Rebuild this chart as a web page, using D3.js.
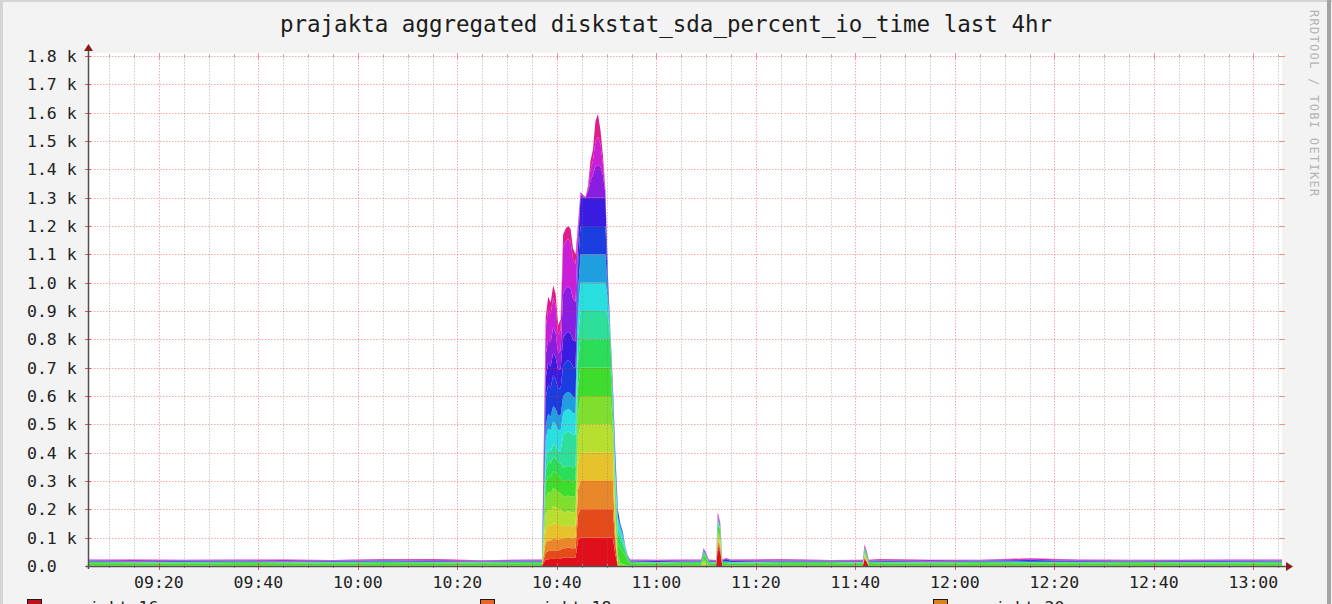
<!DOCTYPE html>
<html>
<head>
<meta charset="utf-8">
<script src="https://cdn.jsdelivr.net/npm/d3@7"></script>
<style>
  html, body { margin: 0; padding: 0; background: #f3f3f3; }
  svg { display: block; }
  text { font-family: "DejaVu Sans Mono", "Liberation Mono", monospace; }
</style>
</head>
<body>
<svg id="chart" width="1332" height="604"></svg>
<script>
// ---------------- data ----------------
const chartTitle = "prajakta aggregated diskstat_sda_percent_io_time last 4hr";
const watermark = "RRDTOOL / TOBI OETIKER";
const timeStart = "09:05:45";
const timeEnd = "13:05:45";

const yTickValues = [0, 100, 200, 300, 400, 500, 600, 700, 800, 900, 1000, 1100, 1200, 1300, 1400, 1500, 1600, 1700, 1800];
const yTickLabels = ["0.0", "0.1 k", "0.2 k", "0.3 k", "0.4 k", "0.5 k", "0.6 k", "0.7 k", "0.8 k", "0.9 k", "1.0 k", "1.1 k", "1.2 k", "1.3 k", "1.4 k", "1.5 k", "1.6 k", "1.7 k", "1.8 k"];
const xTickLabels = ["09:20", "09:40", "10:00", "10:20", "10:40", "11:00", "11:20", "11:40", "12:00", "12:20", "12:40", "13:00"];

const timeStamps = [
  // before the burst
  "09:05:45", "09:15:00", "09:25:00", "09:35:00", "09:45:00", "09:55:00", "10:05:00", "10:15:00", "10:25:00", "10:35:00", "10:37:00",
  // burst
  "10:37:15", "10:37:45", "10:38:15", "10:38:45", "10:39:15", "10:39:45", "10:40:15", "10:40:45", "10:41:15", "10:41:45",
  "10:42:15", "10:42:45", "10:43:15", "10:43:45", "10:44:15", "10:44:45", "10:45:15", "10:45:45", "10:46:15", "10:46:45",
  "10:47:15", "10:47:45", "10:48:15", "10:48:45", "10:49:15", "10:49:45", "10:50:15", "10:50:45", "10:51:15", "10:51:45",
  "10:52:15", "10:52:45", "10:53:15", "10:53:45", "10:54:15", "10:54:45",
  // after the burst
  "10:55:15", "11:00:00", "11:05:00", "11:09:00", "11:09:30", "11:10:00", "11:10:30", "11:12:00", "11:12:20", "11:12:50",
  "11:13:15", "11:14:00", "11:15:00", "11:25:00", "11:35:00", "11:41:30", "11:41:50", "11:42:20", "11:42:40", "11:45:00",
  "11:55:00", "12:05:00", "12:15:00", "12:25:00", "12:35:00", "12:45:00", "12:55:00", "13:05:45"
];

const hostNames = ["prajakta16", "prajakta17", "prajakta18", "prajakta19", "prajakta20", "prajakta21", "prajakta22", "prajakta23",
                   "prajakta24", "prajakta25", "prajakta26", "prajakta27", "prajakta28", "prajakta29", "prajakta30", "prajakta31"];
const hostColors = ["#e00f1b", "#e54a1a", "#e8882a", "#e6c22d", "#b6df2f", "#80df2e", "#3edc2c", "#2bdd58",
                    "#2edf9c", "#29dfe0", "#209fe0", "#1a3de0", "#3a1ce0", "#8a1ee0", "#c81fd8", "#e01c8c"];

const h00 = [0.2,0.2,0.2,0.2,0.2,0.2,0.2,0.2,0.2,0.2,0.2,
  8,22,24,25,26,25,25,26,30,30,31,30,30,30,90,100,100,100,100,100,100,100,100,100,100,100,100,100,100,40,0,0,0,0,0.2,0.2,
  0.2,0.2,0.2,0.2,0.2,0.2,0.2,0.2,60,50,0.2,0.2,0.2,0.2,0.2,0.2,25,12,0.2,0.2,0.2,0.2,0.2,0.2,0.2,0.2,0.2,0.2];
const h01 = [0.2,0.2,0.2,0.2,0.2,0.2,0.2,0.2,0.2,0.2,0.2,
  9,26,28,29,30,30,30,31,33,33,34,33,33,33,90,100,100,100,100,100,100,100,100,100,100,100,100,100,100,40,0,0,0,0,0.2,0.2,
  0.2,0.2,0.2,0.2,0.2,0.2,0.2,0.2,15,12,0.2,0.2,0.2,0.2,0.2,0.2,4,2,0.2,0.2,0.2,0.2,0.2,0.2,0.2,0.2,0.2,0.2];
const h02 = [0.2,0.2,0.2,0.2,0.2,0.2,0.2,0.2,0.2,0.2,0.2,
  12,35,38,37,40,40,38,38,35,35,36,35,35,36,90,100,100,100,100,100,100,100,100,100,100,100,100,100,100,30,0,0,0,0,0.2,0.2,
  0.2,0.2,0.2,0.2,0.5,0.3,0.2,0.2,12,10,0.2,0.2,0.2,0.2,0.2,0.2,4,2,0.2,0.2,0.2,0.2,0.2,0.2,0.2,0.2,0.2,0.2];
const h03 = [0.3,0.3,0.3,0.3,0.3,0.3,0.3,0.3,0.3,0.3,0.3,
  16,48,52,50,55,54,52,50,42,42,43,42,42,42,90,100,100,100,100,100,100,100,100,100,100,100,100,100,100,30,0,0,0,0,0.3,0.3,
  0.3,0.3,0.3,0.3,3,2,0.3,0.3,10,8,0.3,0.3,0.3,0.3,0.3,0.3,5,3,0.3,0.3,0.3,0.3,0.3,0.3,0.3,0.3,0.3,0.3];
const h04 = [0.4,0.4,0.4,0.4,0.4,0.4,0.4,0.4,0.4,0.4,0.4,
  18,53,57,56,60,58,56,55,50,50,50,50,50,50,90,100,100,100,100,100,100,100,100,100,100,100,100,100,60,30,5,2,1,1,0.4,0.4,
  0.4,0.4,0.4,0.4,10,6,0.4,0.4,15,12,0.4,0.4,0.4,0.4,0.4,0.4,5,3,0.4,0.4,0.4,0.4,0.4,0.4,0.4,0.4,0.4,0.4];
const h05 = [1,1,1,1,1,1,1,1,1,1,1,
  20,57,62,60,64,63,60,58,54,55,55,55,54,54,90,100,100,100,100,100,100,100,100,100,100,100,100,100,40,40,30,10,5,3,1,1,
  1,1,1,1,10,6,1,1,15,12,1,1,1,1,1,1,5,3,1,1,1,1,1,1,1,1,1,1];
const h06 = [7,7,6,7,7,6,7,7,6,7,7,
  18,53,57,58,60,60,57,56,54,55,56,55,54,55,90,100,100,100,100,100,100,100,100,100,100,100,100,100,40,45,50,50,45,35,18,7,
  7,6,7,7,15,12,7,6,20,18,7,7,6,7,7,6,8,8,7,7,6,7,7,6,7,7,6,7];
const h07 = [5,4,5,5,4,5,5,4,5,5,5,
  15,44,48,47,50,49,47,48,49,50,50,50,50,50,90,100,100,100,100,100,100,100,100,100,100,100,100,100,30,35,30,30,25,15,8,5,
  5,4,5,5,8,7,5,4,8,8,5,5,4,5,5,4,6,5,5,4,5,5,4,5,5,4,5,5];
const h08 = [0.5,0.5,0.5,0.5,0.5,0.5,0.5,0.5,0.5,0.5,0.5,
  13,40,43,42,45,44,42,45,115,120,120,120,115,112,90,100,100,100,100,100,100,100,100,100,100,100,80,10,15,20,20,20,15,5,1,0.5,
  0.5,0.5,0.5,0.5,3,2,0.5,0.5,5,4,0.5,0.5,0.5,0.5,0.5,0.5,1,1,0.5,0.5,0.5,0.5,0.5,0.5,0.5,0.5,0.5,0.5];
const h09 = [0.5,0.5,0.5,0.5,0.5,0.5,0.5,0.5,0.5,0.5,0.5,
  24,70,76,74,80,78,74,72,78,80,80,80,76,75,85,100,100,100,100,100,100,100,100,100,100,100,60,5,15,30,30,20,15,5,1,0.5,
  0.5,0.5,0.5,0.5,2,1,0.5,0.5,4,3,0.5,0.5,0.5,0.5,0.5,0.5,1,1,0.5,0.5,0.5,0.5,0.5,0.5,0.5,0.5,0.5,0.5];
const h10 = [1,1,1,1,1,1,1,1,1,1,1,
  16,48,52,50,55,54,50,52,58,60,60,60,58,57,75,100,100,100,100,100,100,100,100,100,100,100,30,5,10,20,10,8,6,2,1,1,
  1,1,1,1,2,1,1,1,3,2,1,1,1,1,1,1,1,1,1,1,1,1,1,1,1,1,1,1];
const h11 = [2,1,3,2,1,2,3,2,1,2,2,
  33,97,104,100,108,104,95,96,108,110,112,110,105,104,90,100,100,100,100,100,100,100,100,100,100,100,30,5,15,25,20,8,7,3,2,2,
  2,3,1,2,4,3,2,2,3,3,2,8,3,2,1,2,2,2,2,3,1,2,6,2,1,2,3,2];
const h12 = [0.5,0.5,0.5,0.5,0.5,0.5,0.5,0.5,0.5,0.5,0.5,
  24,70,76,75,80,78,65,68,98,100,100,100,95,94,70,100,100,98,100,100,100,100,100,100,100,100,20,3,10,10,5,2,1,1,0.5,0.5,
  0.5,0.5,0.5,0.5,1,1,0.5,0.5,2,1,0.5,0.5,0.5,0.5,0.5,0.5,0.5,0.5,0.5,0.5,0.5,0.5,0.5,0.5,0.5,0.5,0.5,0.5];
const h13 = [0.5,0.5,0.5,0.5,0.5,0.5,0.5,0.5,0.5,0.5,0.5,
  27,79,85,86,90,86,60,65,158,160,160,160,145,140,40,10,5,2,20,60,80,110,115,110,80,15,5,1,3,2,0,0,0,0,0.5,0.5,
  0.5,0.5,0.5,0.5,1,1,0.5,0.5,3,2,0.5,0.5,0.5,0.5,0.5,0.5,0.5,0.5,0.5,0.5,0.5,0.5,0.5,0.5,0.5,0.5,0.5,0.5];
const h14 = [3,4,2,3,4,2,3,4,2,3,3,
  33,97,105,100,105,98,65,72,163,165,168,165,140,133,30,5,3,1,10,40,50,90,100,80,40,10,3,1,1,2,0,0,0,0,1,3,
  3,2,4,3,2,2,3,2,5,3,3,2,3,4,2,3,3,3,2,3,4,2,3,4,2,3,3,3];
const h15 = [1,2,1,1,2,1,1,2,1,1,1,
  14,40,43,41,42,40,34,38,45,45,45,45,38,35,10,5,2,1,10,30,40,70,80,50,30,5,2,0,1,1,0,0,1,0,1,1,
  1,2,1,1,2,1,1,2,10,5,1,1,2,1,1,2,5,3,1,2,1,1,2,1,2,1,1,1];

const hostSeries = [h00, h01, h02, h03, h04, h05, h06, h07, h08, h09, h10, h11, h12, h13, h14, h15];

const legendLabels = ["prajakta16", "prajakta18", "prajakta20"];
const legendColors = ["#c0101a", "#e8662a", "#d9821f"];

// ---------------- drawing ----------------
const W = 1332, H = 604;
const plot = { left: 88, right: 1282, top: 56, bottom: 566 };
const parseT = d3.timeParse("%H:%M:%S");
const parseHM = d3.timeParse("%H:%M");

const svg = d3.select("#chart");

// canvas & frame
svg.append("rect").attr("x", 0).attr("y", 0).attr("width", W).attr("height", H).attr("fill", "#f3f3f3");
svg.append("rect").attr("x", 0).attr("y", 0).attr("width", W).attr("height", 2).attr("fill", "#d4d4d4");
svg.append("rect").attr("x", 0).attr("y", 0).attr("width", 3).attr("height", H).attr("fill", "#d4d4d4");
svg.append("rect").attr("x", W - 5).attr("y", 0).attr("width", 4).attr("height", H).attr("fill", "#a3a3a3");

const x = d3.scaleTime().domain([parseT(timeStart), parseT(timeEnd)]).range([plot.left, plot.right]);
const y = d3.scaleLinear().domain([0, 1800]).range([plot.bottom, plot.top]);

// plot background
svg.append("rect").attr("x", plot.left).attr("y", plot.top - 3)
  .attr("width", plot.right - plot.left).attr("height", plot.bottom - plot.top + 3).attr("fill", "#ffffff");

// stacked areas
const keys = hostNames;
const rows = timeStamps.map((t, i) => {
  const r = { t: parseT(t) };
  keys.forEach((k, j) => { r[k] = hostSeries[j][i]; });
  return r;
});
const stack = d3.stack().keys(keys);
const layers = stack(rows);
const area = d3.area()
  .x(d => x(d.data.t))
  .y0(d => y(d[0]))
  .y1(d => y(d[1]))
  .curve(d3.curveLinear);
svg.append("g").selectAll("path").data(layers).join("path")
  .attr("d", area)
  .attr("fill", (d, i) => hostColors[i]);

// grid (drawn over the data, as RRDtool does)
const grid = svg.append("g");
const minorTicks = x.ticks(d3.timeMinute.every(5));
const majorTimes = xTickLabels.map(s => parseHM(s));
const majorSet = new Set(majorTimes.map(d => +d));
const minorCol = "rgba(120,120,120,0.38)";
const majorCol = "rgba(240,40,40,0.40)";

minorTicks.filter(d => !majorSet.has(+d)).forEach(d => {
  const px = Math.round(x(d)) + 0.5;
  grid.append("line").attr("x1", px).attr("x2", px).attr("y1", plot.top).attr("y2", plot.bottom)
    .attr("stroke", minorCol).attr("stroke-width", 1).attr("stroke-dasharray", "1.5,1.5");
  grid.append("line").attr("x1", px).attr("x2", px).attr("y1", plot.bottom - 2).attr("y2", plot.bottom + 2)
    .attr("stroke", "#999").attr("stroke-width", 1);
  grid.append("line").attr("x1", px).attr("x2", px).attr("y1", plot.top - 2).attr("y2", plot.top + 2)
    .attr("stroke", "#bbb").attr("stroke-width", 1);
});
majorTimes.forEach(d => {
  const px = Math.round(x(d)) + 0.5;
  grid.append("line").attr("x1", px).attr("x2", px).attr("y1", plot.top).attr("y2", plot.bottom)
    .attr("stroke", majorCol).attr("stroke-width", 1).attr("stroke-dasharray", "1.5,1.5");
  grid.append("line").attr("x1", px).attr("x2", px).attr("y1", plot.bottom - 3).attr("y2", plot.bottom + 4)
    .attr("stroke", "#e05555").attr("stroke-width", 1);
  grid.append("line").attr("x1", px).attr("x2", px).attr("y1", plot.top - 3).attr("y2", plot.top + 3)
    .attr("stroke", "#f09090").attr("stroke-width", 1);
});
yTickValues.forEach(v => {
  const py = Math.round(y(v)) + 0.5;
  grid.append("line").attr("x1", plot.left).attr("x2", plot.right).attr("y1", py).attr("y2", py)
    .attr("stroke", majorCol).attr("stroke-width", 1).attr("stroke-dasharray", "1.5,1.5");
  grid.append("line").attr("x1", plot.left - 3).attr("x2", plot.left + 3).attr("y1", py).attr("y2", py)
    .attr("stroke", "#e05555").attr("stroke-width", 1);
  grid.append("line").attr("x1", plot.right - 3).attr("x2", plot.right + 3).attr("y1", py).attr("y2", py)
    .attr("stroke", "#f09090").attr("stroke-width", 1);
});

// axes
const axisCol = "#505050";
svg.append("line").attr("x1", plot.left - 2).attr("x2", plot.right + 4).attr("y1", plot.bottom + 0.5).attr("y2", plot.bottom + 0.5)
  .attr("stroke", axisCol).attr("stroke-width", 1.5);
svg.append("line").attr("x1", plot.left + 0.5).attr("x2", plot.left + 0.5).attr("y1", plot.bottom + 3).attr("y2", plot.top - 6)
  .attr("stroke", axisCol).attr("stroke-width", 1.5);
svg.append("path").attr("d", `M${plot.right + 4},${plot.bottom - 4} L${plot.right + 11},${plot.bottom + 0.5} L${plot.right + 4},${plot.bottom + 5} Z`)
  .attr("fill", "#8b1c1c");
svg.append("path").attr("d", `M${plot.left - 4},${plot.top - 5} L${plot.left + 0.5},${plot.top - 12} L${plot.left + 5},${plot.top - 5} Z`)
  .attr("fill", "#8b1c1c");

// y tick labels
svg.append("g").selectAll("text").data(yTickValues).join("text")
  .attr("x", 27).attr("y", d => y(d) + 6)
  .attr("font-size", "16.5px").attr("fill", "#222")
  .text((d, i) => yTickLabels[i]);

// x tick labels
svg.append("g").selectAll("text").data(majorTimes).join("text")
  .attr("x", d => x(d)).attr("y", 588)
  .attr("text-anchor", "middle")
  .attr("font-size", "16.5px").attr("fill", "#222")
  .text((d, i) => xTickLabels[i]);

// title
svg.append("text").attr("x", 666).attr("y", 32).attr("text-anchor", "middle")
  .attr("font-size", "22.5px").attr("fill", "#1c1c1c").text(chartTitle);

// watermark
svg.append("text").attr("transform", "translate(1310,10) rotate(90)")
  .attr("font-size", "12px").attr("letter-spacing", "1.3px").attr("fill", "#b4b4b4").text(watermark);

// legend (only its top edge is inside the picture, as in the reference)
const lg = svg.append("g");
const legendX = [27, 480, 933];
legendLabels.forEach((lab, i) => {
  const lx = legendX[i];
  lg.append("rect").attr("x", lx + 0.5).attr("y", 599.5).attr("width", 14).attr("height", 14)
    .attr("fill", legendColors[i]).attr("stroke", "#1a1a1a");
  lg.append("text").attr("x", lx + 32).attr("y", 613).attr("font-size", "16.5px").attr("fill", "#222").text(lab);
});
</script>
</body>
</html>
